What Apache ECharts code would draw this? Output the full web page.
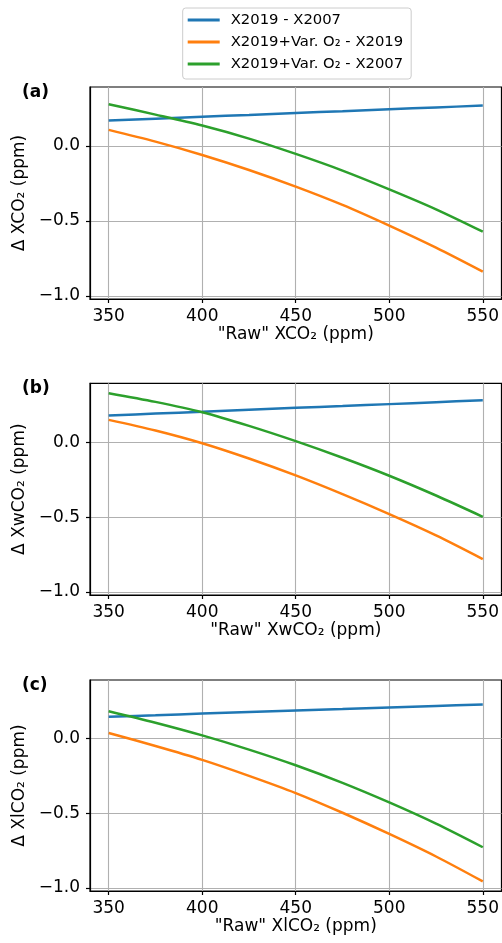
<!DOCTYPE html>
<html>
<head>
<meta charset="utf-8">
<script src="https://cdn.jsdelivr.net/npm/echarts@6/dist/echarts.min.js"></script>
<style>
html,body{margin:0;padding:0;background:#fff;}
#chart{width:502px;height:943px;}
</style>
</head>
<body>
<div id="chart"></div>
<script>
// Data
const xValues = [350, 375, 400, 425, 450, 475, 500, 525, 550];
const seriesNames = ['X2019 - X2007', 'X2019+Var. O\u2082 - X2019', 'X2019+Var. O\u2082 - X2007'];
const panelLetters = ['(a)', '(b)', '(c)'];
const yTitles = ['\u0394 XCO\u2082 (ppm)', '\u0394 XwCO\u2082 (ppm)', '\u0394 XlCO\u2082 (ppm)'];
const xTitles = ['"Raw" XCO\u2082 (ppm)', '"Raw" XwCO\u2082 (ppm)', '"Raw" XlCO\u2082 (ppm)'];
const xTicks = [350, 400, 450, 500, 550];
const yTicks = [-1.0, -0.5, 0.0];

const aBlue   = [0.170, 0.182, 0.195, 0.207, 0.220, 0.232, 0.245, 0.257, 0.269];
const aOrange = [0.107, 0.029, -0.060, -0.160, -0.271, -0.393, -0.531, -0.678, -0.838];
const aGreen  = [0.278, 0.209, 0.136, 0.049, -0.053, -0.164, -0.289, -0.422, -0.571];

const bBlue   = [0.178, 0.191, 0.203, 0.216, 0.229, 0.241, 0.254, 0.267, 0.280];
const bOrange = [0.149, 0.078, -0.007, -0.109, -0.222, -0.347, -0.480, -0.622, -0.780];
const bGreen  = [0.327, 0.269, 0.200, 0.109, 0.007, -0.104, -0.224, -0.356, -0.498];

const cBlue   = [0.147, 0.157, 0.168, 0.178, 0.188, 0.198, 0.209, 0.219, 0.229];
const cOrange = [0.038, -0.049, -0.142, -0.249, -0.364, -0.496, -0.638, -0.789, -0.956];
const cGreen  = [0.184, 0.107, 0.022, -0.073, -0.178, -0.296, -0.427, -0.569, -0.727];

const panels = [[aBlue, aOrange, aGreen], [bBlue, bOrange, bGreen], [cBlue, cOrange, cGreen]];
const colors = ['#1f77b4', '#ff7f0e', '#2ca02c'];

const FONT = 'DejaVu Sans';
const gridTops = [87, 383.3, 680];
const gridHeights = [212, 211.7, 211];

const chart = echarts.init(document.getElementById('chart'), null, {renderer: 'canvas'});

const grids = [], xAxes = [], yAxes = [], series = [], titles = [];
for (let p = 0; p < 3; p++) {
  grids.push({left: 90, width: 414.5, top: gridTops[p], height: gridHeights[p],
    show: true, borderColor: '#000', borderWidth: 1.2, backgroundColor: 'transparent'});
  xAxes.push({
    type: 'value', gridIndex: p, min: 340, max: 560,
    name: xTitles[p], nameLocation: 'middle', nameGap: 23,
    nameTextStyle: {fontFamily: FONT, fontSize: 17, color: '#000'},
    axisLine: {show: true, onZero: false, lineStyle: {color: '#000', width: 1.2}},
    axisTick: {show: true, length: 4, customValues: xTicks, lineStyle: {color: '#000', width: 1.2}},
    axisLabel: {show: true, customValues: xTicks, margin: 9, fontFamily: FONT, fontSize: 17, color: '#000'},
    splitLine: {show: true, lineStyle: {color: '#b0b0b0', width: 1.1}}
  });
  yAxes.push({
    type: 'value', gridIndex: p, min: -1.02, max: 0.393,
    name: yTitles[p], nameLocation: 'middle', nameGap: 59, nameRotate: 90,
    nameTextStyle: {fontFamily: FONT, fontSize: 17, color: '#000'},
    axisLine: {show: true, onZero: false, lineStyle: {color: '#000', width: 1.2}},
    axisTick: {show: true, length: 4, customValues: yTicks, lineStyle: {color: '#000', width: 1.2}},
    axisLabel: {show: true, customValues: yTicks, margin: 10, fontFamily: FONT, fontSize: 17, color: '#000',
      formatter: v => (v < 0 ? '\u2212' : '') + Math.abs(v).toFixed(1)},
    splitLine: {show: true, lineStyle: {color: '#b0b0b0', width: 1.1}}
  });
  for (let s = 0; s < 3; s++) {
    series.push({
      type: 'line', name: seriesNames[s], xAxisIndex: p, yAxisIndex: p,
      data: xValues.map((x, i) => [x, panels[p][s][i]]),
      smooth: 0.3, showSymbol: false, symbol: 'none',
      lineStyle: {color: colors[s], width: 2.5}, itemStyle: {color: colors[s]},
      z: 3 + s
    });
  }
  titles.push({text: panelLetters[p], left: 22, top: gridTops[p] - 3, padding: 0,
    textStyle: {fontFamily: FONT, fontSize: 17, fontWeight: 'bold', color: '#000'}});
}

chart.setOption({
  animation: false,
  backgroundColor: '#fff',
  title: titles,
  legend: {
    data: seriesNames, orient: 'vertical', left: 182.7, top: 8,
    itemWidth: 38, itemHeight: 3, itemGap: 4,
    icon: 'path://M0,0H32V3H0Z M38,0H38.01V0.01H38Z',
    padding: [3, 8, 6, 5],
    borderColor: '#cccccc', borderWidth: 1, borderRadius: 3,
    textStyle: {fontFamily: FONT, fontSize: 14.8, color: '#000', lineHeight: 18}
  },
  grid: grids, xAxis: xAxes, yAxis: yAxes, series: series
});
</script>
</body>
</html>
